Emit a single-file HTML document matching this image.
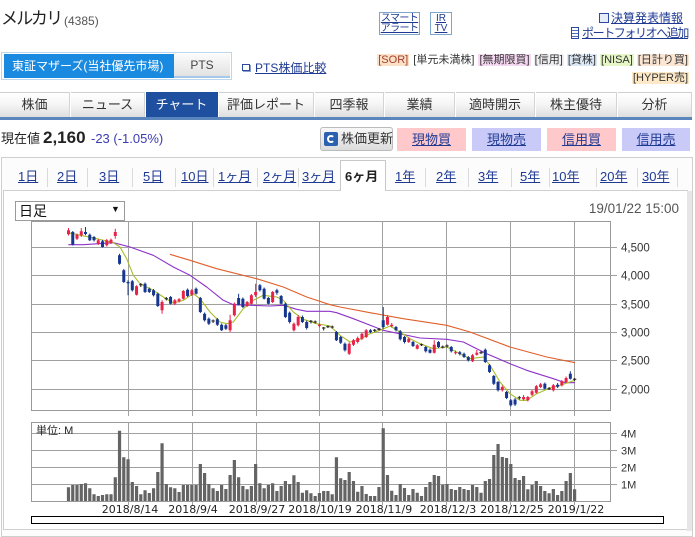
<!DOCTYPE html>
<html><head><meta charset="utf-8">
<style>
*{margin:0;padding:0;box-sizing:border-box}
body{width:695px;height:518px;overflow:hidden;background:#fff;font-family:"Liberation Sans","Noto Sans CJK JP",sans-serif;color:#333;position:relative}
.a{position:absolute;white-space:nowrap}
.lnk{color:#1f3a93;text-decoration:underline}
.tab{position:absolute;top:92px;height:25px;background:linear-gradient(#ffffff 0%,#f6f6f6 45%,#dedede 100%);border-top:1px solid #cfcfcf;border-right:1px solid #d4d4d4;font-size:13px;line-height:24px;text-align:center;color:#333}
.tab.on{background:#1f4f9f;color:#fff;border-color:#1f4f9f}
.btn{position:absolute;top:128px;height:23px;font-size:13px;line-height:23px;text-align:center}
.per{position:absolute;top:168px;font-size:13px;line-height:17px;color:#1f3a93;text-decoration:underline}
.sep{position:absolute;top:168px;width:1px;height:19px;background:#dadada}
.tag{padding:0 1px}
</style></head><body>

<!-- title -->
<div class="a" style="left:1px;top:9px;font-size:17px;line-height:20px;letter-spacing:-1.8px;color:#222">メルカリ</div>
<div class="a" style="left:64px;top:14px;font-size:12px;line-height:14px;color:#555">(4385)</div>

<!-- market tabs -->
<div class="a" style="left:1px;top:52px;width:231px;height:28px;border:1px solid #bcd6ee"></div>
<div class="a" style="left:4px;top:54px;width:170px;height:24px;background:#1a8ae0;color:#fff;font-size:12px;line-height:24px;padding-left:8px">東証マザーズ(当社優先市場)</div>
<div class="a" style="left:174px;top:54px;width:56px;height:24px;background:linear-gradient(#fbfbfb,#e2e2e2);border-bottom:2px solid #a6c8ea;font-size:12px;line-height:22px;text-align:center;color:#444">PTS</div>
<div class="a" style="left:242px;top:64px;width:8px;height:7px;border:1px solid #2c4aa0;box-shadow:1px 1px 0 #8aa0d0"></div>
<div class="a lnk" style="left:255px;top:61px;font-size:12px;line-height:14px">PTS株価比較</div>

<!-- right header -->
<div class="a" style="left:379px;top:12px;width:41px;height:23px;border:1px solid #7ea6cc;font-size:10px;line-height:10px;text-align:center;padding-top:1px;letter-spacing:-0.6px"><span class="lnk">スマート</span><br><span class="lnk">アラート</span></div>
<div class="a" style="left:430px;top:12px;width:22px;height:23px;border:1px solid #7ea6cc;font-size:10px;line-height:10px;text-align:center;padding-top:1px"><span class="lnk">IR</span><br><span class="lnk">TV</span></div>
<div class="a" style="left:599px;top:13px;width:10px;height:10px;border:1px solid #2c4aa0;background:#e6ecf8"></div>
<div class="a lnk" style="left:611px;top:11px;font-size:12px;line-height:14px">決算発表情報</div>
<div class="a" style="left:571px;top:27px;width:8px;height:12px;border:1px solid #2c4aa0;background:repeating-linear-gradient(#fff 0 2px,#5070b8 2px 3px)"></div>
<div class="a lnk" style="left:582px;top:26px;font-size:12px;line-height:14px;letter-spacing:-1.4px">ポートフォリオへ追加</div>

<!-- tags -->
<div class="a" style="right:6px;top:54px;font-size:11px;line-height:13px;color:#333">
<span class="tag" style="background:#fde0c8;color:#a0402a">[SOR]</span> <span class="tag">[単元未満株]</span> <span class="tag" style="background:#f6d8f2">[無期限買]</span> <span class="tag" style="background:#f0f0f4">[信用]</span> <span class="tag" style="background:#dde8f6">[貸株]</span> <span class="tag" style="background:#e6f6c6">[NISA]</span> <span class="tag" style="background:#fbe6d4">[日計り買]</span></div>
<div class="a" style="right:6px;top:72px;font-size:11px;line-height:13px;color:#333"><span class="tag" style="background:#fde8c8">[HYPER売]</span></div>

<!-- nav tabs -->
<div class="tab" style="left:0;width:70px">株価</div>
<div class="tab" style="left:71px;width:74px">ニュース</div>
<div class="tab on" style="left:146px;width:72px">チャート</div>
<div class="tab" style="left:219px;width:95px">評価レポート</div>
<div class="tab" style="left:315px;width:69px">四季報</div>
<div class="tab" style="left:385px;width:70px">業績</div>
<div class="tab" style="left:456px;width:79px">適時開示</div>
<div class="tab" style="left:536px;width:81px">株主優待</div>
<div class="tab" style="left:618px;width:74px">分析</div>
<div class="a" style="left:0;top:117px;width:692px;height:3px;background:#5a86bd"></div>

<!-- price row -->
<div class="a" style="left:1px;top:130px;font-size:13px;line-height:17px;color:#222">現在値</div>
<div class="a" style="left:43px;top:128px;font-size:17px;line-height:20px;font-weight:bold;color:#222">2,160</div>
<div class="a" style="left:91px;top:131px;font-size:13px;line-height:15px;color:#3b3bb0">-23 (-1.05%)</div>

<!-- buttons -->
<div class="a" style="left:320px;top:127px;width:73px;height:24px;border:1px solid #bbb;border-radius:3px;background:linear-gradient(#f8f8f8,#dcdcdc)"></div>
<div class="a" style="left:324px;top:132px;width:14px;height:14px;background:#2a62b0;border-radius:2px"></div>
<div class="a" style="left:327px;top:135px;width:8px;height:8px;border:2px solid #fff;border-right-color:#2a62b0;border-radius:50%"></div>
<div class="a" style="left:341px;top:131px;font-size:13px;line-height:16px;color:#333">株価更新</div>
<div class="btn" style="left:397px;width:69px;background:#ffc9cc"><span class="lnk">現物買</span></div>
<div class="btn" style="left:472px;width:69px;background:#cacaf8"><span class="lnk">現物売</span></div>
<div class="btn" style="left:547px;width:69px;background:#ffc9cc"><span class="lnk">信用買</span></div>
<div class="btn" style="left:622px;width:68px;background:#cacaf8"><span class="lnk">信用売</span></div>

<!-- chart panel -->
<div class="a" style="left:1px;top:157px;width:692px;height:380px;border:1px solid #cfcfcf;background:#fcfcfc"></div>
<div class="a" style="left:3px;top:190px;width:685px;height:340px;border:1px solid #cfcfcf;background:#fff"></div>
<div class="a" style="left:687px;top:191px;width:5px;height:340px;background:#e6e6e6"></div>
<div class="a" style="left:340px;top:160px;width:46px;height:31px;border:1px solid #c8c8c8;border-bottom:none;background:#fff"></div>

<div class="per" style="left:18px">1日</div>
<div class="sep" style="left:47px"></div>
<div class="per" style="left:57px">2日</div>
<div class="sep" style="left:87px"></div>
<div class="per" style="left:99px">3日</div>
<div class="sep" style="left:132px"></div>
<div class="per" style="left:143px">5日</div>
<div class="sep" style="left:175px"></div>
<div class="per" style="left:181px">10日</div>
<div class="sep" style="left:213px"></div>
<div class="per" style="left:218px">1ヶ月</div>
<div class="sep" style="left:257px"></div>
<div class="per" style="left:263px">2ヶ月</div>
<div class="sep" style="left:298px"></div>
<div class="per" style="left:302px">3ヶ月</div>
<div class="per" style="left:345px;color:#222;text-decoration:none;font-weight:bold">6ヶ月</div>
<div class="per" style="left:395px">1年</div>
<div class="sep" style="left:425px"></div>
<div class="per" style="left:436px">2年</div>
<div class="sep" style="left:468px"></div>
<div class="per" style="left:478px">3年</div>
<div class="sep" style="left:511px"></div>
<div class="per" style="left:520px">5年</div>
<div class="sep" style="left:549px"></div>
<div class="per" style="left:552px">10年</div>
<div class="sep" style="left:596px"></div>
<div class="per" style="left:600px">20年</div>
<div class="sep" style="left:637px"></div>
<div class="per" style="left:642px">30年</div>
<div class="sep" style="left:677px"></div>

<!-- dropdown & timestamp -->
<div class="a" style="left:15px;top:201px;width:110px;height:20px;border:1px solid #9a9a9a;background:#fff"></div>
<div class="a" style="left:19px;top:202px;font-size:14px;line-height:18px;color:#111">日足</div>
<div class="a" style="left:111px;top:204px;font-size:9px;line-height:11px;color:#111">▼</div>
<div class="a" style="right:16px;top:201px;font-size:13.5px;line-height:16px;color:#555">19/01/22 15:00</div>

<svg class="a" style="left:0;top:0" width="695" height="518" viewBox="0 0 695 518">
<g fill="none" stroke="#a0a0a0" stroke-width="1" shape-rendering="crispEdges">
<rect x="31.5" y="221.5" width="579" height="189" fill="#fff" stroke="#999"/>
<path d="M128.5 221V416M192.5 221V416M256.5 221V416M319.5 221V416M382.5 221V416M446.5 221V416M510.5 221V416M574.5 221V416"/>
<path d="M31 247.5H617M31 275.5H617M31 304.5H617M31 332.5H617M31 360.5H617M31 389.5H617"/>
<rect x="31.5" y="422.5" width="579" height="79" fill="#fff" stroke="#999"/>
<path d="M128.5 422V505M192.5 422V505M256.5 422V505M319.5 422V505M382.5 422V505M446.5 422V505M510.5 422V505M574.5 422V505"/>
<path d="M31 433.5H617M31 450.5H617M31 467.5H617M31 484.5H617"/>
</g>

<!-- moving averages -->
<g fill="none" stroke-width="1.1" stroke-linejoin="round">
<polyline stroke="#e0602a" points="170,254.3 190,260.3 216.7,268.7 256.7,278.7 283.3,287 306.7,297 330,304.7 340,307 370,312.7 403.3,318.7 446.7,325.3 470,332 510,347 546.7,357 575,362.7"/>
<polyline stroke="#8e32c8" points="68.3,244.7 83.3,244.7 113.3,242.7 130,247 153.3,255.3 173.3,267 190,275.3 206.7,287 223.3,300.3 233.3,304.7 270,306 283.3,305.3 296.7,309.3 306.7,311.3 330,311.3 336.7,312.7 353.3,318.7 383.3,330.3 420,338 446.7,339.3 463.3,342 486.7,353.7 510,363.7 526.7,370.3 553.3,378.7 565,382.7 575,382.7"/>
<polyline stroke="#a9bd2a" points="68.3,232.7 96.7,238.7 113.3,242.7 120,247 126.7,258.7 133.3,275.3 140,283.7 153.3,290.3 163.3,297 173.3,303 183.3,300.3 193.3,293.7 200,298.7 210,312 220,322 226.7,323.7 233.3,322 243.3,308.7 253.3,300.3 263.3,295.3 276.7,297 283.3,300.3 293.3,312 303.3,319.3 316.7,323.7 330,326 340,335.3 350,342 360,339.3 370,333.7 380,330.3 390,326 400,332 410,338.7 420,343.7 433.3,348.7 446.7,347 460,353.7 470,358.7 483.3,357 490,365.3 500,382 510,393.7 520,400.3 526.7,400.3 536.7,393.7 550,388 560,385.3 575,380.3"/>
</g>

<g transform="translate(68.5 0) scale(4.253 1)" fill="none">
<!-- volume -->
<path stroke="#646464" stroke-width="3.2" vector-effect="non-scaling-stroke" d="M0 487.3V501M1 485V501M2 485V501M3 484V501M4 483.3V501M5 488.3V501M6 494.3V501M7 496V501M8 495V501M9 494.3V501M10 494.3V501M11 477.3V501M12 430.7V501M13 457.3V501M14 459.3V501M15 482V501M16 486V501M17 494.3V501M18 490.3V501M19 493V501M20 488.3V501M21 472V501M22 443.3V501M23 484V501M24 487.3V501M25 488.3V501M26 492V501M27 485V501M28 485V501M29 485V501M30 485V501M31 464V501M32 473V501M33 484V501M34 488.3V501M35 491V501M36 485V501M37 489V501M38 475V501M39 460V501M40 477.3V501M41 486V501M42 489.3V501M43 486V501M44 464V501M45 483.3V501M46 488.3V501M47 485V501M48 483.3V501M49 491V501M50 486V501M51 481V501M52 484V501M53 475.3V501M54 482V501M55 492.7V501M56 490.3V501M57 493.3V501M58 496V501M59 493V501M60 491V501M61 491V501M62 494.3V501M63 457.3V501M64 478.3V501M65 480V501M66 472V501M67 481V501M68 491.7V501M69 486V501M70 494V501M71 496V501M72 496V501M73 487V501M74 428.3V501M75 475V501M76 490.7V501M77 495V501M78 484V501M79 488V501M80 495V501M81 489V501M82 492.7V501M83 496V501M84 487V501M85 482V501M86 475V501M87 476V501M88 484.7V501M89 484V501M90 489V501M91 490V501M92 487V501M93 489V501M94 490V501M95 485V501M96 487V501M97 492.7V501M98 481V501M99 479V501M100 455V501M101 444V501M102 457V501M103 458V501M104 464V501M105 478V501M106 480V501M107 476V501M108 489.3V501M109 485V501M110 481V501M111 486V501M112 491V501M113 493.3V501M114 489V501M115 495V501M116 491V501M117 481V501M118 473V501M119 489.3V501"/>
<!-- red wicks & bodies -->
<path stroke="#e8234a" stroke-width="1" vector-effect="non-scaling-stroke" d="M0 228V235.5M2 233.5V240M3 228V237M7 239V245M9 239V246.5M10 238.5V244M11 228.7V238.7M16 285.3V295.5M22 300.3V313.7M25 299V305M26 298V302.5M27 290V299.5M29 289V296M38 314.7V332M39 302.5V316.5M42 301V307M43 294V304.5M44 283.7V297M48 291V303M53 322.5V331.5M54 315V326.5M59 323.5V327.5M66 342.5V355M67 339V346M68 336.5V343.5M69 332.5V340M70 329V338M75 315.3V325.5M76 323V327.5M80 337.5V343M82 344V349.5M86 340.3V353.5M91 350.5V354.5M95 354V362M96 350V355.5M102 385.5V391.5M107 395V400.5M108 396V401.5M109 390V396M110 385V393.5M111 383V388M114 384V391.5M116 380V386.5M117 376.5V383"/>
<path stroke="#e8234a" stroke-width="3" vector-effect="non-scaling-stroke" d="M0 230.3V234.3M2 234.7V238.7M3 231.3V235.3M7 240.3V243.7M9 240.3V245.3M10 239.7V242.7M11 232V236M16 286.3V294.7M22 302V310.3M25 300.3V303.7M26 299.3V301.3M27 291V298.7M29 290.3V294.7M38 320.3V330.3M39 303.7V315.3M42 302V306M43 295.3V303.7M44 292V295.3M48 292V302M53 323.7V330.3M54 317V325.3M59 324.7V326M66 343.7V353.7M67 340.3V344.7M68 338V342M69 333.7V338.7M70 330.3V337M75 317V324.7M76 324.7V326.3M80 338.7V342M82 345.3V348.7M86 344.7V352.7M91 352.3V353.3M95 355.3V361.3M96 352.7V354.7M102 387V390.3M107 397V399.3M108 397V400.3M109 391.3V394.7M110 386.3V392.7M111 384.3V387M114 385.3V390.3M116 381.3V385.3M117 378V382"/>
<!-- blue wicks & bodies -->
<path stroke="#17368f" stroke-width="1" vector-effect="non-scaling-stroke" d="M1 231V245.5M4 227V235.3M5 233.5V241M6 236V241.5M8 240V247.5M12 253.7V264.7M13 269V283M14 280.3V295.3M15 280V291.5M18 282.5V293M19 287.5V293M20 289V296.5M21 292.5V307M24 296V304.5M28 288.5V297M30 287.5V294.5M31 297V313M32 312.5V321.5M33 317.5V325M35 318V326M36 323.5V331M37 324V330M40 293.7V305.5M41 297.5V308M45 284V291.5M46 287.5V299.5M47 297V304.5M49 288.7V294.7M50 295V304.5M51 302.5V318M52 311.5V323.5M55 315.5V323M56 320.5V329.5M63 331V341M64 336V344M65 342.5V351.5M71 329V333M74 307V328.7M77 326V331.5M78 330V340.5M79 336V343.5M81 341V347M84 346V352.5M85 348.5V353.5M87 341V348M90 346V352.5M92 351V355.5M93 352.5V358M94 356V361.5M98 348.5V363M99 364V373M100 375V385M101 381V391.5M103 391V399M104 399V406.5M105 398V406M112 382.5V389.5M115 383V388M118 371.3V379.5"/>
<path stroke="#17368f" stroke-width="3" vector-effect="non-scaling-stroke" d="M1 232V244.7M4 232V234M5 234.7V240.3M6 237V240.3M8 241.3V247M12 255.3V263.7M13 270.3V282M14 282V283.3M15 281.3V290.3M18 283.7V292M19 288.7V292M20 290.3V295.3M21 293.7V306M24 297V303.7M28 289.7V296M30 288.7V293.7M31 298V312M32 313.7V320.3M33 318.7V323.7M35 319.3V324.7M36 324.7V330.3M37 325.3V328.7M40 298V304.7M41 298.7V307M45 285.3V290.3M46 288.7V298.7M47 298V303.7M49 290.3V292.7M50 296V303.7M51 303.7V317M52 312.7V322M55 317V322M56 322V328M63 332V340.3M64 337V342.7M65 343.7V350.3M71 330.3V332M74 320.3V327M77 327V330.3M78 331.3V339.3M79 337V342M81 342V346M84 347V351.3M85 349.7V352.7M87 342V347M90 347V351.3M92 352.3V354M93 353.7V357M94 357V360.3M98 349.7V362M99 365.3V372M100 376V383.7M101 382V390.3M103 392V398M104 400.3V405.3M105 399.5V404.5M112 383.7V388.7M115 384.7V386.7M118 373.7V378.7"/>
<!-- doji -->
<path stroke="#222" stroke-width="1" vector-effect="non-scaling-stroke" d="M17 283V287M23 297V300.5M34 319.5V323M57 320V323.5M58 320.5V323.5M60 327V330.5M61 325.5V328M62 325.5V328.5M72 329V332M73 328V330.5M83 343.5V346M88 345.5V348.5M89 344.5V347.5M97 351V354M106 396V399.5M113 387V390M119 378V381M16.6 284.7h.8M22.6 298.7h.8M33.6 321h.8M56.6 321.3h.8M57.6 322h.8M59.6 328h.8M60.6 326.7h.8M61.6 327h.8M71.6 330.3h.8M72.6 329.3h.8M82.6 344.7h.8M87.6 347h.8M88.6 346h.8M96.6 352.7h.8M105.6 397.7h.8M112.6 388.7h.8M118.6 379.3h.8"/>
</g>

<!-- axis labels -->
<g font-family="Liberation Sans, sans-serif" font-size="11.5" fill="#333">
<text x="621" y="251.5">4,500</text>
<text x="621" y="279.5">4,000</text>
<text x="621" y="308.5">3,500</text>
<text x="621" y="336.5">3,000</text>
<text x="621" y="364.5">2,500</text>
<text x="621" y="393.5">2,000</text>
</g>
<g font-family="Liberation Sans, sans-serif" font-size="11" fill="#333">
<text x="621" y="437.5">4M</text>
<text x="621" y="454.5">3M</text>
<text x="621" y="471.5">2M</text>
<text x="621" y="488.5">1M</text>
</g>
<text x="36" y="434" font-family="Liberation Sans, Noto Sans CJK JP, sans-serif" font-size="11" fill="#222">単位: M</text>
<g font-family="DejaVu Sans, sans-serif" font-size="11" fill="#222" text-anchor="middle">
<text x="130" y="513">2018/8/14</text>
<text x="193" y="513">2018/9/4</text>
<text x="257" y="513">2018/9/27</text>
<text x="320" y="513">2018/10/19</text>
<text x="384" y="513">2018/11/9</text>
<text x="448" y="513">2018/12/3</text>
<text x="512" y="513">2018/12/25</text>
<text x="576" y="513">2019/1/22</text>
</g>
</svg>

<div class="a" style="left:31px;top:516px;width:633px;height:8px;border:1px solid #000"></div>

</body></html>
